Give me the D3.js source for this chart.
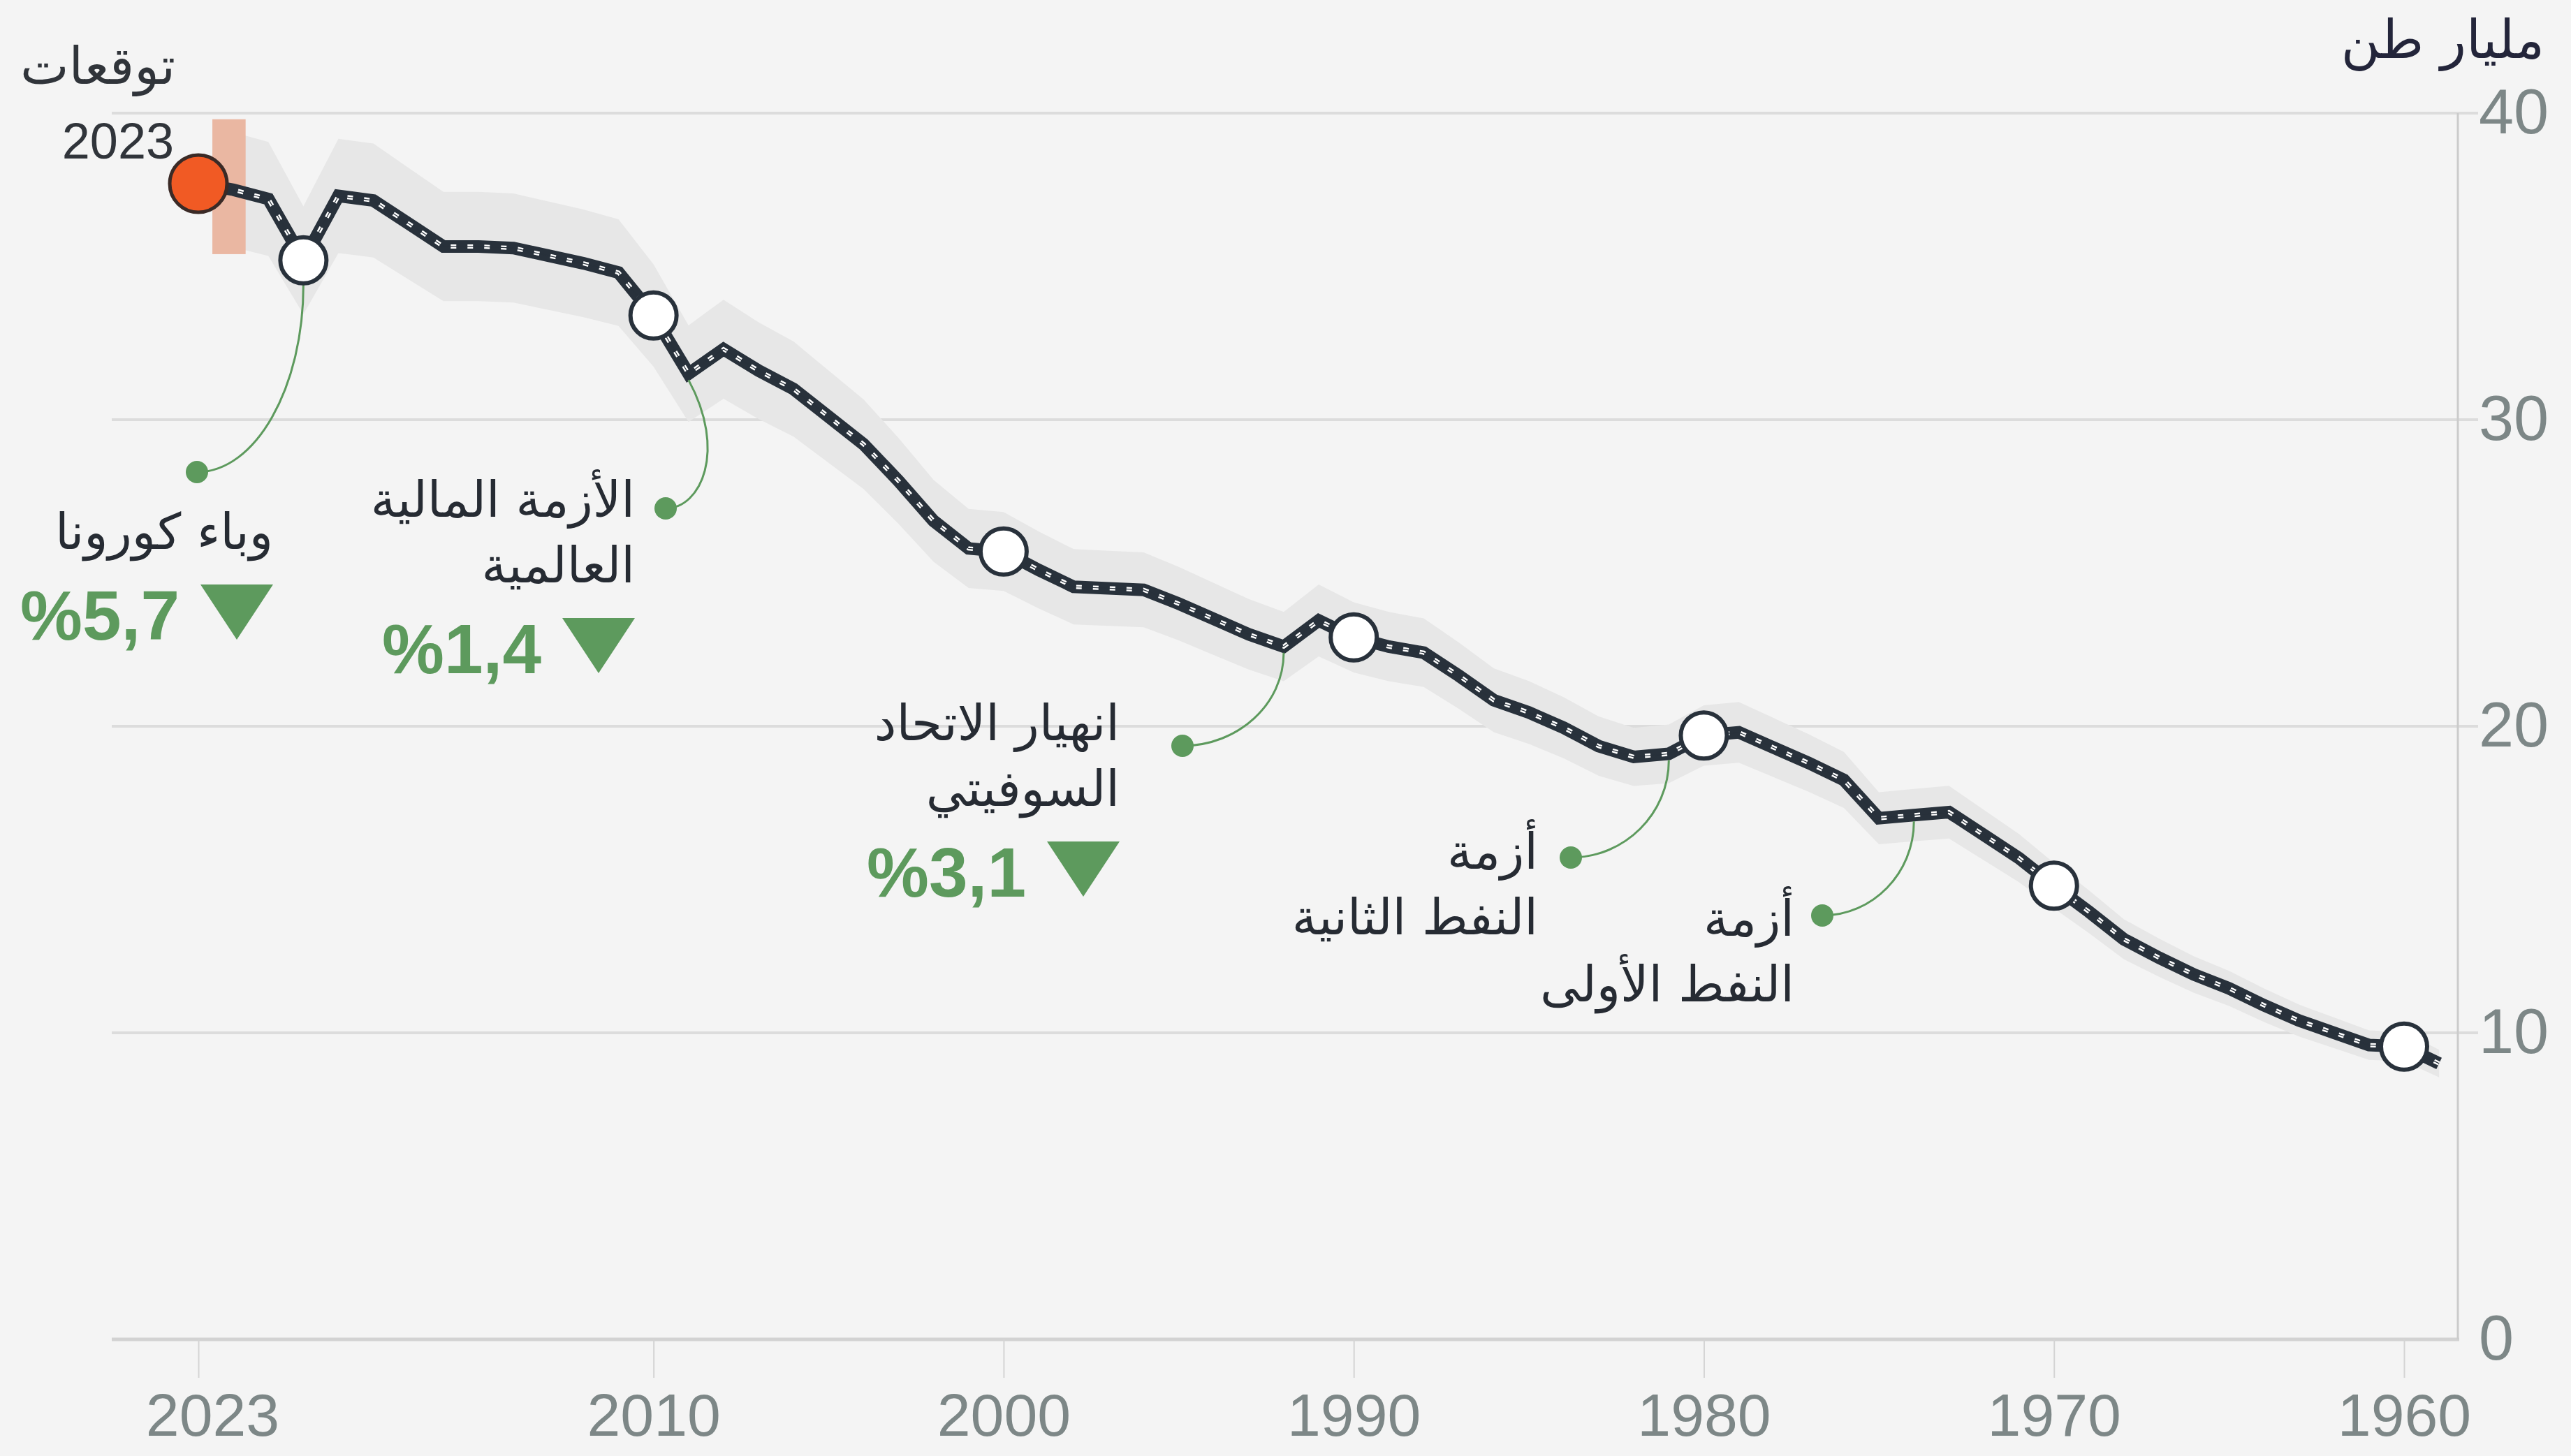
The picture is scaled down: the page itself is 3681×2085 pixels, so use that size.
<!DOCTYPE html>
<html>
  <head>
    <meta charset="utf-8" />
    <title>emissions</title>
    <script src="https://d3js.org/d3.v7.min.js"></script>
    <style>
      body { margin: 0; background: #f4f4f4; }
      .ar { font-family: "DejaVu Sans", sans-serif; }
      .num { font-family: "Liberation Sans", Arial, sans-serif; }
    </style>
  </head>
  <body>
    <svg id="chart"></svg>
    <script>

      // global CO2 emissions, billion tonnes, 1959 -> 2023
      var years = d3.range(1959, 2024);
      var emissions = [
        9.0, 9.55, 9.6, 10.0, 10.4, 10.9, 11.45, 11.9, 12.45, 13.05,
        13.95, 14.8, 15.7, 16.45, 17.2, 17.1, 17.0, 18.25, 18.8, 19.3,
        19.8, 19.7, 19.1, 19.0, 19.35, 19.95, 20.45, 20.85, 21.65, 22.4,
        22.6, 22.9, 23.45, 22.6, 23.0, 23.5, 24.0, 24.45, 24.5, 24.55,
        25.1, 25.7, 25.8, 26.7, 28.0, 29.2, 30.1, 31.0, 31.6, 32.3,
        31.5, 33.4, 34.8, 35.1, 35.35, 35.6, 35.65, 35.65, 36.4, 37.15,
        37.3, 35.2, 37.2, 37.5, 37.7
      ];
      var uncertainty = 0.05;
      var forecastYear = 2023;
      var forecastYears = [2022.6, 2021.65];
      var forecastRange = [35.4, 39.8];
      var markerYears = [2020, 2010, 2000, 1990, 1980, 1970, 1960];
      var xTicks = [2023, 2010, 2000, 1990, 1980, 1970, 1960];
      var yTicks = [0, 10, 20, 30, 40];

      var eventYears = [2020, 2009, 1992, 1981, 1974];
      var eventLabels = [
        ["وباء كورونا"],
        ["الأزمة المالية", "العالمية"],
        ["انهيار الاتحاد", "السوفيتي"],
        ["أزمة", "النفط الثانية"],
        ["أزمة", "النفط الأولى"]
      ];
      var eventDrops = ["%5,7", "%1,4", "%3,1", null, null];

      // layout of the callouts (pixels)
      var callouts = [
        { dot: [282, 676], right: 391, base: 786, startGap: 35, bend: 0 },
        { dot: [953, 728], right: 909, base: 740, startGap: 9, bend: 55 },
        { dot: [1693, 1068], right: 1603, base: 1060, startGap: 9, bend: 0 },
        { dot: [2249, 1228], right: 2202, base: 1244, startGap: 9, bend: 0 },
        { dot: [2609, 1311], right: 2569, base: 1340, startGap: 9, bend: 0 }
      ];

      var width = 3681;
      var height = 2085;
      var lineColor = "#28313b";
      var green = "#5d9a5d";

      var data = years.map(function(yr, i) {
        return { year: yr, value: emissions[i] };
      });
      var byYear = {};
      data.forEach(function(d) { byYear[d.year] = d.value; });

      var svg = d3.select("#chart")
        .attr("width", width)
        .attr("height", height)
        .style("background", "#f4f4f4");

      var x = d3.scaleLinear().domain([2023, 1960]).range([284, 3442]);
      var y = d3.scaleLinear().domain([0, 40]).range([1918, 162]);

      // grid lines
      svg.append("g").selectAll("line")
        .data(yTicks)
        .enter().append("line")
        .attr("x1", 160)
        .attr("x2", function(d) { return d === 0 ? 3521 : 3548; })
        .attr("y1", function(d) { return y(d); })
        .attr("y2", function(d) { return y(d); })
        .attr("stroke", function(d) { return d === 0 ? "#d2d2d2" : "#dcdcdc"; })
        .attr("stroke-width", function(d) { return d === 0 ? 5 : 4; });

      svg.append("line")
        .attr("x1", 3519).attr("x2", 3519)
        .attr("y1", y(40)).attr("y2", y(0))
        .attr("stroke", "#cbcbcb")
        .attr("stroke-width", 3);

      // y axis labels
      var yAxis = d3.axisRight(y).tickValues(yTicks).tickSize(0).tickPadding(30);
      var yg = svg.append("g")
        .attr("transform", "translate(3519,0)")
        .call(yAxis);
      yg.select(".domain").remove();
      yg.selectAll("text")
        .attr("class", "num")
        .attr("font-size", 90)
        .attr("fill", "#7d8787");

      // x axis
      var xAxis = d3.axisBottom(x).tickValues(xTicks).tickSize(55).tickPadding(22)
        .tickFormat(d3.format("d"));
      var xg = svg.append("g")
        .attr("transform", "translate(0," + y(0) + ")")
        .call(xAxis);
      xg.select(".domain").remove();
      xg.selectAll("line").attr("stroke", "#d4d4d4").attr("stroke-width", 2);
      xg.selectAll("text")
        .attr("class", "num")
        .attr("font-size", 86)
        .attr("fill", "#7d8787")
        .attr("dx", function(d) { return d === forecastYear ? 20 : 0; });

      // uncertainty band
      var band = d3.area()
        .x(function(d) { return x(d.year); })
        .y0(function(d) { return y(d.value * (1 - uncertainty)); })
        .y1(function(d) { return y(d.value * (1 + uncertainty)); });

      svg.append("path")
        .datum(data.filter(function(d) { return d.year <= 2022; }))
        .attr("d", band)
        .attr("fill", "#e7e7e7");

      // forecast range
      svg.append("rect")
        .attr("x", x(forecastYears[0]))
        .attr("width", x(forecastYears[1]) - x(forecastYears[0]))
        .attr("y", y(forecastRange[1]))
        .attr("height", y(forecastRange[0]) - y(forecastRange[1]))
        .attr("fill", "#eab7a2");

      // road-style line
      var line = d3.line()
        .x(function(d) { return x(d.year); })
        .y(function(d) { return y(d.value); });

      svg.append("path")
        .datum(data)
        .attr("d", line)
        .attr("fill", "none")
        .attr("stroke", lineColor)
        .attr("stroke-width", 18)
        .attr("stroke-linejoin", "miter");

      svg.append("path")
        .datum(data)
        .attr("d", line)
        .attr("fill", "none")
        .attr("stroke", "#ffffff")
        .attr("stroke-width", 6)
        .attr("stroke-dasharray", "8,16");

      svg.append("path")
        .datum(data)
        .attr("d", line)
        .attr("fill", "none")
        .attr("stroke", lineColor)
        .attr("stroke-width", 1.2);

      // callout connectors
      var conn = svg.append("g");
      eventYears.forEach(function(yr, i) {
        var c = callouts[i];
        var sx = x(yr);
        var sy = y(byYear[yr]) + c.startGap;
        var ex = c.dot[0];
        var ey = c.dot[1];
        var p = d3.path();
        p.moveTo(sx, sy);
        p.bezierCurveTo(sx + c.bend, sy + (ey - sy) * 0.55,
          ex + (sx - ex) * 0.55 + c.bend * 0.6, ey, ex, ey);
        conn.append("path")
          .attr("d", p.toString())
          .attr("fill", "none")
          .attr("stroke", green)
          .attr("stroke-width", 3);
        conn.append("circle")
          .attr("cx", ex).attr("cy", ey).attr("r", 16)
          .attr("fill", green);
      });

      // markers
      svg.append("g").selectAll("circle")
        .data(markerYears)
        .enter().append("circle")
        .attr("cx", function(d) { return x(d); })
        .attr("cy", function(d) { return y(byYear[d]); })
        .attr("r", 33)
        .attr("fill", "#ffffff")
        .attr("stroke", lineColor)
        .attr("stroke-width", 6);

      svg.append("circle")
        .attr("cx", x(forecastYear))
        .attr("cy", y(byYear[forecastYear]))
        .attr("r", 41)
        .attr("fill", "#f15a24")
        .attr("stroke", "#3a2a26")
        .attr("stroke-width", 5);

      // callout labels
      var labels = svg.append("g");
      eventLabels.forEach(function(lines, i) {
        var c = callouts[i];
        lines.forEach(function(t, j) {
          labels.append("text")
            .attr("class", "ar")
            .attr("x", c.right)
            .attr("y", c.base + j * 94)
            .attr("text-anchor", "end")
            .attr("font-size", 71)
            .attr("fill", "#262b33")
            .text(t);
        });
        if (eventDrops[i]) {
          var base = c.base + (lines.length - 1) * 94 + 130;
          var tr = c.right;
          labels.append("path")
            .attr("d", "M" + (tr - 104) + "," + (base - 79) + "L" + tr + "," + (base - 79) +
              "L" + (tr - 52) + "," + base + "Z")
            .attr("fill", green);
          labels.append("text")
            .attr("class", "num")
            .attr("x", tr - 134)
            .attr("y", base)
            .attr("text-anchor", "end")
            .attr("font-size", 100)
            .attr("font-weight", "bold")
            .attr("fill", green)
            .text(eventDrops[i]);
        }
      });

      // forecast label and unit
      svg.append("text")
        .attr("class", "ar")
        .attr("x", 251).attr("y", 120)
        .attr("text-anchor", "end")
        .attr("font-size", 74)
        .attr("fill", "#30343a")
        .text("توقعات");

      svg.append("text")
        .attr("class", "num")
        .attr("x", 249).attr("y", 227)
        .attr("text-anchor", "end")
        .attr("font-size", 72)
        .attr("fill", "#30343a")
        .text("2023");

      svg.append("text")
        .attr("class", "ar")
        .attr("x", 3643).attr("y", 83)
        .attr("text-anchor", "end")
        .attr("font-size", 76)
        .attr("fill", "#23253a")
        .text("مليار طن");

    </script>
  </body>
</html>
